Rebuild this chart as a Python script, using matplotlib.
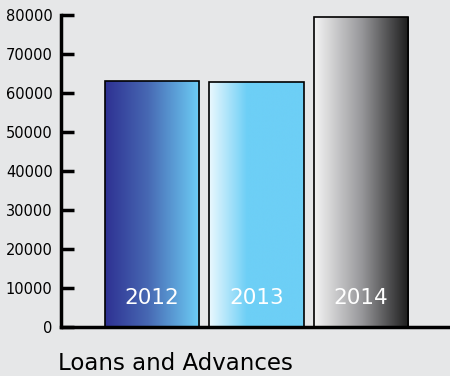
import numpy as np
import matplotlib
matplotlib.use("Agg")
import matplotlib.pyplot as plt
from matplotlib.colors import LinearSegmentedColormap

# data
years = ["2012", "2013", "2014"]
values = [63000, 62800, 79600]
yticks = [0, 10000, 20000, 30000, 40000, 50000, 60000, 70000, 80000]
title = "Loans and Advances"

bg = "#e6e7e8"
# left-to-right gradient for each bar
gradients = [
    [(0.0, "#2e3192"), (0.45, "#4768b3"), (1.0, "#6dcff6")],
    [(0.0, "#eaf8fe"), (0.4, "#6dcff6"), (1.0, "#6dcff6")],
    [(0.0, "#f4f4f4"), (0.5, "#98989b"), (1.0, "#1c1c1c")],
]

fig = plt.figure(figsize=(4.5, 3.76), dpi=100, facecolor=bg)
ax = fig.add_axes([61 / 450, 1 - 327 / 376, 1 - 61 / 450, (327 - 15) / 376])
ax.set_facecolor(bg)

x = np.arange(len(years))
bars = ax.bar(x, values, width=0.9, facecolor="none", edgecolor="black",
              linewidth=1.2, zorder=3)

grad = np.linspace(0, 1, 256).reshape(1, -1)
for bar, stops, yr in zip(bars, gradients, years):
    cmap = LinearSegmentedColormap.from_list("g", stops)
    x0, y0 = bar.get_x(), bar.get_y()
    w, h = bar.get_width(), bar.get_height()
    im = ax.imshow(grad, cmap=cmap, aspect="auto", extent=[x0, x0 + w, y0, y0 + h],
                   zorder=2, interpolation="bilinear")
    im.set_clip_path(bar)
    ax.text(x0 + w / 2, 7500, yr, ha="center", va="center", color="white",
            fontsize=15.5, zorder=4)

ax.set_xlim(-0.871, 2.852)
ax.set_ylim(0, 80000)
ax.set_yticks(yticks)
ax.set_yticklabels([str(t) for t in yticks])
ax.set_xticks([])
ax.tick_params(axis="y", direction="in", length=9, width=2.5, labelsize=10.5,
               pad=6, colors="black")
for s in ["top", "right"]:
    ax.spines[s].set_visible(False)
ax.spines["left"].set_linewidth(2.5)
ax.spines["bottom"].set_linewidth(2.5)

fig.text(58 / 450, 1 - 363 / 376, title, ha="left", va="center", fontsize=16.5)

fig.savefig("out.png", dpi=100, facecolor=bg)
